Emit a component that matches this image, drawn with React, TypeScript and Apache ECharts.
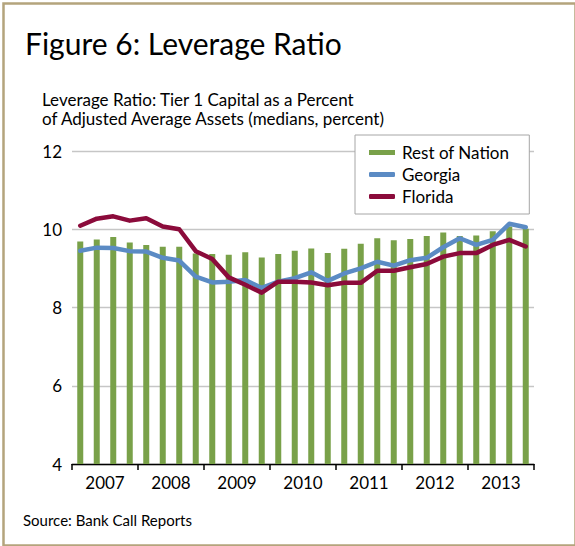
import React, { useEffect, useRef } from "react";
import * as echarts from "echarts";

const years = ["2007", "2008", "2009", "2010", "2011", "2012", "2013"];
const quarters = years.flatMap((y) => ["Q1", "Q2", "Q3", "Q4"].map((q) => `${y} ${q}`));

const restOfNation = [
  9.69, 9.74, 9.8, 9.66, 9.6, 9.55, 9.55, 9.38, 9.37, 9.35, 9.41, 9.28, 9.37, 9.45,
  9.51, 9.39, 9.5, 9.63, 9.77, 9.72, 9.75, 9.83, 9.92, 9.83, 9.84, 9.95, 10.07, 10.01,
];
const georgia = [
  9.45, 9.53, 9.52, 9.44, 9.43, 9.27, 9.2, 8.79, 8.64, 8.66, 8.7, 8.5, 8.66, 8.75,
  8.9, 8.68, 8.87, 9.0, 9.17, 9.07, 9.21, 9.27, 9.54, 9.77, 9.6, 9.73, 10.14, 10.05,
];
const florida = [
  10.09, 10.27, 10.33, 10.22, 10.28, 10.07, 10.0, 9.44, 9.24, 8.77, 8.58, 8.38, 8.66, 8.66,
  8.64, 8.57, 8.63, 8.63, 8.94, 8.94, 9.03, 9.11, 9.3, 9.39, 9.39, 9.6, 9.73, 9.56,
];

const FONT = "Lato";

export default function App() {
  const ref = useRef<HTMLDivElement>(null);
  useEffect(() => {
    if (!ref.current) return;
    const chart = echarts.init(ref.current, undefined, { renderer: "svg" });
    chart.setOption({
      animation: false,
      backgroundColor: "#ffffff",
      textStyle: { fontFamily: FONT },
      grid: { left: 72, right: 41, top: 151, bottom: 82, containLabel: false },
      legend: {
        orient: "vertical",
        left: 355,
        top: 135,
        backgroundColor: "#ffffff",
        borderColor: "#a6a6a6",
        borderWidth: 1,
        padding: [9, 20, 9, 14],
        itemGap: 5,
        itemWidth: 26,
        itemHeight: 5,
        textStyle: { fontSize: 17, color: "#000", fontFamily: FONT, padding: [0, 0, 0, 2] },
        data: [
          { name: "Rest of Nation", icon: "rect" },
          { name: "Georgia", icon: "roundRect" },
          { name: "Florida", icon: "roundRect" },
        ],
      },
      xAxis: {
        type: "category",
        data: quarters,
        boundaryGap: true,
        axisLine: { show: true, onZero: false, lineStyle: { color: "#000", width: 1.3 } },
        axisTick: {
          show: true,
          inside: false,
          length: 6,
          interval: 3,
          alignWithLabel: false,
          lineStyle: { color: "#000000", width: 1.5 },
        },
        axisLabel: {
          interval: (i: number) => i % 4 === 1,
          formatter: (v: string) => v.slice(0, 4),
          fontSize: 17,
          color: "#000",
          margin: 10,
          padding: [0, 0, 0, 16.5],
          fontFamily: FONT,
        },
        splitLine: { show: false },
      },
      yAxis: {
        type: "value",
        min: 4,
        max: 12,
        interval: 2,
        axisLine: { show: false },
        axisTick: { show: false },
        axisLabel: { fontSize: 17, color: "#000", margin: 10, fontFamily: FONT },
        splitLine: { lineStyle: { color: "#c6c6c6", width: 1.3 } },
      },
      series: [
        {
          name: "Rest of Nation",
          type: "bar",
          data: restOfNation,
          barWidth: 6,
          itemStyle: { color: "#79a149" },
        },
        {
          name: "Georgia",
          type: "line",
          data: georgia,
          symbol: "none",
          lineStyle: { color: "#5b8bc4", width: 4.5, cap: "round", join: "round" },
          itemStyle: { color: "#5b8bc4" },
        },
        {
          name: "Florida",
          type: "line",
          data: florida,
          symbol: "none",
          lineStyle: { color: "#8b0b3b", width: 4.5, cap: "round", join: "round" },
          itemStyle: { color: "#8b0b3b" },
        },
      ],
      graphic: [
        {
          type: "rect",
          left: 1,
          top: 1,
          shape: { x: 1.25, y: 1.25, width: 572, height: 542 },
          style: { fill: "none", stroke: "#b4a47c", lineWidth: 2.5 },
          silent: true,
        },
        {
          type: "text",
          left: 25,
          top: 28,
          style: { text: "Figure 6: Leverage Ratio", fontSize: 30, fontFamily: FONT, fill: "#000" },
        },
        {
          type: "text",
          left: 42,
          top: 90,
          style: {
            text: "Leverage Ratio: Tier 1 Capital as a Percent\nof Adjusted Average Assets (medians, percent)",
            fontSize: 17,
            lineHeight: 19,
            fontFamily: FONT,
            fill: "#000",
          },
        },
        {
          type: "text",
          left: 23,
          top: 512,
          style: { text: "Source: Bank Call Reports", fontSize: 15, fontFamily: FONT, fill: "#000" },
        },
      ],
    });
    return () => chart.dispose();
  }, []);
  return (
    <div
      ref={ref}
      style={{ position: "absolute", left: 0, top: 0, width: 575, height: 546 }}
    />
  );
}
